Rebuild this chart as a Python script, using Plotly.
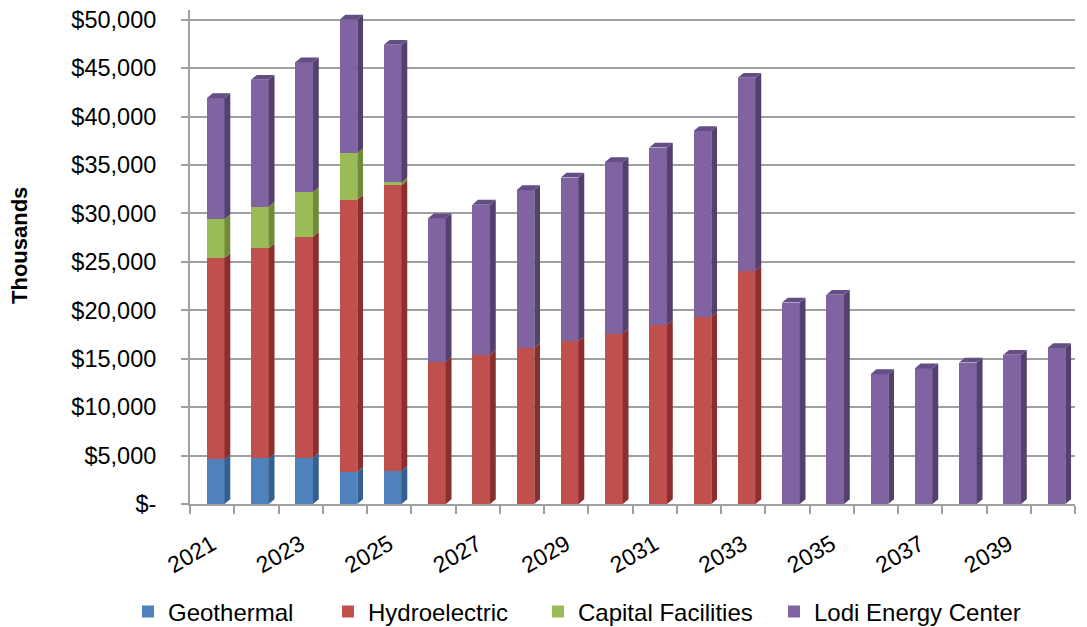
import plotly.graph_objects as go

years = [str(y) for y in range(2021, 2041)]
geothermal = [4.6, 4.7, 4.8, 3.3, 3.4] + [0] * 15
hydroelectric = [20.8, 21.7, 22.8, 28.1, 29.5, 14.7, 15.4, 16.1, 16.8, 17.6, 18.5, 19.3, 24.1] + [0] * 7
capital = [4.0, 4.3, 4.6, 4.8, 0.3] + [0] * 15
lodi = [12.5, 13.1, 13.4, 13.8, 14.2, 14.8, 15.5, 16.3, 16.9, 17.7, 18.3, 19.2, 19.9,
        20.8, 21.6, 13.4, 14.0, 14.6, 15.4, 16.1]
# values in thousands of dollars (x1000)
series = [
    ("Geothermal", [v * 1000 for v in geothermal], "#4F81BD", "#365F8F", "#3F6EA6"),
    ("Hydroelectric", [v * 1000 for v in hydroelectric], "#C0504D", "#8A2F2D", "#A33F3C"),
    ("Capital Facilities", [v * 1000 for v in capital], "#9BBB59", "#6F8B39", "#86A448"),
    ("Lodi Energy Center", [v * 1000 for v in lodi], "#8064A2", "#54406E", "#654D85"),
]
legend_left_px = [140, 340, 550, 786]
ytick_vals = list(range(0, 50001, 5000))
ytick_text = ["$-"] + [f"${v:,}" for v in ytick_vals[1:]]

FONT = "Liberation Sans, Arial, sans-serif"
xs = list(range(len(years)))
half_w = 0.2
shift = 0.08
dx = 0.13   # depth in category units
dy = 500    # depth in value units

fig = go.Figure()
side_shapes = []
top_shapes = []
base = [0.0] * len(years)
for k, (name, vals, color, side, top) in enumerate(series):
    lg = "legend" if k == 0 else f"legend{k + 1}"
    fig.add_trace(go.Bar(
        x=xs, y=vals, name=name, marker=dict(color=color, line=dict(width=0)),
        width=2 * half_w, offset=-half_w + shift, legend=lg,
    ))
    for i, v in enumerate(vals):
        if v <= 0:
            continue
        y0 = base[i]
        y1 = base[i] + v
        xr = i + half_w + shift
        side_shapes.append(dict(
            type="path", xref="x", yref="y", layer="above",
            path=f"M {xr},{y0} L {xr+dx},{y0+dy} L {xr+dx},{y1+dy} L {xr},{y1} Z",
            fillcolor=side, line=dict(width=0)))
        base[i] = y1

# top faces only on the top of each stacked column
for i in xs:
    if base[i] <= 0:
        continue
    top_color = None
    for name, vals, color, side, top in series:
        if vals[i] > 0:
            top_color = top
    y1 = base[i]
    xr = i + half_w + shift
    xl = i - half_w + shift
    top_shapes.append(dict(
        type="path", xref="x", yref="y", layer="above",
        path=f"M {xl},{y1} L {xl+dx},{y1+dy} L {xr+dx},{y1+dy} L {xr},{y1} Z",
        fillcolor=top_color, line=dict(width=0)))

legends = {}
for k, px in enumerate(legend_left_px):
    key = "legend" if k == 0 else f"legend{k + 1}"
    legends[key] = dict(
        xref="container", yref="container", x=(px - 12) / 1087, xanchor="left",
        y=1 - 612 / 627, yanchor="middle", font=dict(size=24),
        bgcolor="rgba(0,0,0,0)", borderwidth=0, itemwidth=30,
    )

fig.update_layout(
    barmode="stack",
    width=1087, height=627,
    margin=dict(l=190, r=12, t=10, b=123, autoexpand=False),
    plot_bgcolor="white", paper_bgcolor="white",
    font=dict(family=FONT, size=22, color="black"),
    shapes=side_shapes + top_shapes,
    showlegend=True,
    **legends,
    xaxis=dict(
        range=[-0.5, 19.5], tickmode="array",
        tickvals=xs[::2], ticktext=years[::2], tickangle=-30,
        ticks="", showgrid=False, showline=True, linecolor="#A0A0A0", linewidth=2,
        tickfont=dict(size=23), ticklabelstandoff=16,
        minor=dict(tickmode="array", tickvals=[i - 0.5 for i in range(len(years) + 1)],
                   ticks="outside", ticklen=8, tickcolor="#A0A0A0", tickwidth=2),
        zeroline=False,
    ),
    yaxis=dict(
        range=[0, 51000], tickmode="array", tickvals=ytick_vals, ticktext=ytick_text,
        showgrid=True, gridcolor="#A0A0A0", gridwidth=2,
        showline=True, linecolor="#A0A0A0", linewidth=2,
        ticks="outside", ticklen=7, tickcolor="#A0A0A0", tickwidth=2,
        tickfont=dict(size=23.5), ticklabelstandoff=20,
        zeroline=False,
    ),
    annotations=[dict(
        text="<b>Thousands</b>", textangle=-90, xref="paper", yref="paper",
        x=(20 - 190) / 885, y=(504 - 246) / 494, xanchor="center", yanchor="middle",
        showarrow=False, font=dict(size=22),
    )],
)
fig.write_html("out.html", config={"displayModeBar": False},
               post_script="document.body.style.margin='0';document.body.style.overflow='hidden';")
